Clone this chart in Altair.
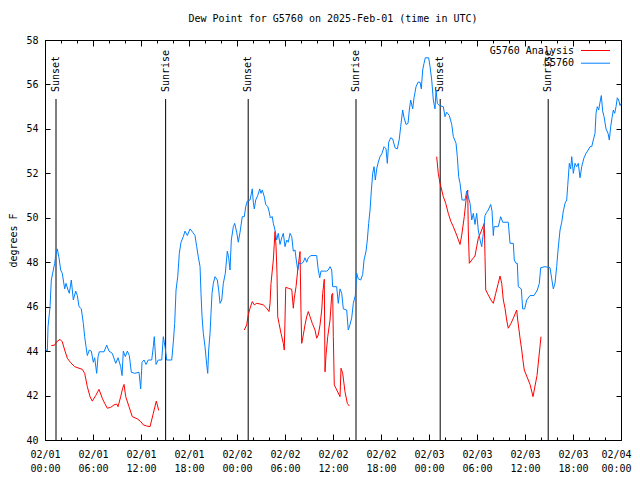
import altair as alt
import pandas as pd

FONT = "DejaVu Sans Mono"
TITLE = "Dew Point for G5760 on 2025-Feb-01 (time in UTC)"
Y_TITLE = "degrees F"
SERIES = ["G5760 Analysis", "G5760"]
COLORS = ["#ff0000", "#0080ff"]

# hours after 2025-02-01 00:00 UTC
BLUE_T = [0.05, 0.29, 0.38, 0.63, 0.79, 1.04, 1.21, 1.34, 1.54, 1.75,
          1.96, 2.16, 2.46, 2.63, 2.88, 3.04, 3.29, 3.54, 3.84, 4.04,
          4.25, 4.54, 4.79, 4.96, 5.13, 5.29, 5.54, 5.79, 6.04, 6.21,
          6.46, 6.63, 6.79, 7.38, 7.71, 8.0, 8.41, 8.84, 9.13, 9.46,
          9.63, 9.79, 10.04, 10.29, 10.54, 10.79, 11.21, 11.75, 11.96, 12.13,
          12.38, 12.63, 12.91, 13.34, 13.54, 13.66, 13.88, 14.16, 14.59, 14.79,
          15.0, 15.21, 15.84, 16.04, 16.21, 16.38, 16.59, 16.79, 17.0, 17.29,
          17.5, 17.79, 18.13, 18.46, 18.75, 18.96, 19.16, 19.38, 19.5, 19.63,
          19.79, 20.0, 20.21, 20.34, 20.46, 20.63, 20.75, 20.88, 21.04, 21.25,
          21.54, 21.71, 21.88, 22.09, 22.29, 22.54, 22.79, 22.96, 23.13, 23.29,
          23.54, 23.71, 23.96, 24.16, 24.38, 24.66, 24.91, 25.09, 25.29, 25.63,
          25.91, 26.04, 26.16, 26.34, 26.59, 26.84, 27.0, 27.16, 27.41, 27.59,
          27.84, 28.0, 28.16, 28.41, 28.54, 28.75, 28.96, 29.16, 29.38, 29.59,
          29.79, 30.0, 30.21, 30.41, 30.63, 30.84, 31.04, 31.25, 31.41, 31.59,
          31.75, 32.09, 32.29, 32.5, 32.71, 32.91, 33.25, 33.96, 34.16, 34.34,
          34.5, 34.91, 35.21, 35.41, 35.63, 35.84, 35.96, 36.46, 36.66, 36.88,
          37.09, 37.29, 37.71, 37.91, 38.13, 38.34, 38.54, 38.79, 38.96, 39.16,
          39.46, 39.71, 39.88, 40.13, 40.29, 40.46, 40.63, 40.79, 40.96, 41.13,
          41.29, 41.46, 41.66, 41.88, 42.13, 42.38, 42.63, 42.79, 42.96, 43.21,
          43.46, 43.75, 44.04, 44.29, 44.46, 44.71, 44.88, 45.13, 45.38, 45.54,
          45.71, 45.96, 46.13, 46.38, 46.63, 46.88, 47.04, 47.21, 47.38, 47.54,
          47.96, 48.13, 48.34, 48.54, 48.75, 48.88, 49.04, 49.29, 49.79, 50.0,
          50.21, 50.54, 50.84, 51.04, 51.38, 51.54, 51.71, 51.88, 52.13, 52.5,
          52.71, 52.91, 53.13, 53.34, 53.54, 53.75, 53.96, 54.16, 54.38, 54.59,
          54.79, 55.0, 55.21, 55.41, 55.71, 55.88, 56.04, 56.13, 56.66, 56.96,
          57.21, 57.91, 58.13, 58.54, 58.66, 58.88, 59.04, 59.16, 59.54, 59.71,
          59.96, 60.21, 60.63, 61.13, 61.54, 61.79, 61.96, 62.5, 63.13, 63.34,
          63.54, 63.75, 63.96, 64.13, 64.38, 64.59, 64.79, 65.0, 65.21, 65.34,
          65.54, 65.71, 65.84, 66.04, 66.25, 66.46, 66.66, 66.88, 67.09, 67.38,
          67.63, 67.91, 68.13, 68.34, 68.54, 68.75, 68.88, 69.04, 69.21, 69.38,
          69.54, 69.71, 69.88, 70.13, 70.38, 70.54, 70.71, 70.88, 71.04, 71.21,
          71.38, 71.54, 71.71, 71.88, 72.0]
BLUE_V = [44.1, 44.0, 45.1, 46.0, 47.2, 47.65, 47.95, 48.3, 48.6, 48.2,
          47.65, 47.5, 46.8, 47.05, 46.75, 46.6, 47.2, 46.3, 46.7, 46.5,
          46.0, 45.9, 45.25, 44.65, 44.2, 43.8, 44.05, 44.0, 43.5, 43.7,
          43.0, 43.75, 43.97, 43.97, 44.27, 44.0, 43.9, 43.45, 43.7, 43.3,
          42.9, 44.0, 43.75, 44.0, 43.8, 43.05, 43.0, 43.05, 42.3, 43.5,
          43.6, 43.4, 43.6, 43.6, 44.2, 44.65, 43.4, 43.6, 43.6, 44.65,
          44.2, 43.6, 43.6, 44.4, 45.25, 46.75, 47.35, 48.4, 48.9, 49.15,
          49.4, 49.2, 49.5, 49.35, 49.2, 48.7, 48.25, 47.8, 46.6, 45.55,
          44.8, 44.2, 43.4, 43.0, 44.05, 44.8, 45.7, 46.6, 47.05, 47.35,
          47.2, 46.75, 46.15, 46.3, 47.05, 47.5, 48.5, 48.2, 47.65, 49.0,
          49.6, 49.75, 49.35, 48.9, 49.35, 50.05, 50.05, 50.5, 50.75, 50.8,
          51.3, 50.7, 50.4, 50.8, 51.0, 51.3, 51.1, 51.25, 50.95, 50.6,
          50.5, 50.3, 50.0, 50.05, 49.75, 49.45, 49.0, 49.3, 48.8, 49.1,
          49.3, 48.7, 49.0, 48.9, 49.3, 49.15, 48.5, 48.55, 48.1, 47.65,
          47.95, 47.95, 48.0, 48.2, 48.0, 48.2, 48.3, 48.3, 47.65, 47.3,
          47.6, 47.6, 47.6, 47.65, 47.8, 47.65, 46.9, 46.9, 46.15, 46.8,
          46.6, 45.9, 45.85, 44.95, 45.2, 45.5, 46.15, 46.5, 47.5, 47.25,
          47.2, 47.45, 48.1, 48.5, 49.0, 49.75, 50.35, 51.2, 52.0, 52.3,
          51.7, 52.2, 52.5, 52.75, 52.9, 53.2, 53.1, 52.45, 53.4, 53.6,
          53.55, 53.15, 53.1, 53.55, 54.1, 54.85, 54.5, 54.2, 54.25, 54.85,
          55.3, 54.9, 55.4, 55.9, 56.1, 56.1, 55.8, 56.65, 56.95, 57.2,
          57.2, 56.8, 56.2, 55.3, 54.9, 55.75, 55.15, 55.05, 55.0, 54.55,
          54.75, 54.6, 54.2, 53.65, 53.35, 52.75, 51.85, 51.55, 50.8, 50.8,
          51.2, 50.95, 50.65, 49.9, 50.2, 49.7, 50.2, 49.45, 49.0, 48.7,
          49.3, 50.1, 50.25, 50.35, 50.6, 50.3, 49.2, 49.6, 49.6, 50.05,
          49.8, 49.8, 48.85, 48.85, 48.1, 47.95, 47.95, 46.9, 46.8, 45.9,
          45.9, 46.3, 46.5, 46.5, 46.75, 47.05, 47.75, 47.8, 47.75, 47.25,
          46.8, 47.05, 47.8, 48.55, 49.45, 49.8, 50.3, 50.65, 50.8, 51.45,
          52.45, 52.2, 52.75, 52.0, 52.45, 52.3, 52.45, 51.8, 52.3, 52.7,
          52.9, 53.05, 53.2, 53.2, 53.5, 53.8, 54.7, 55.0, 54.85, 55.2,
          55.5, 54.8, 54.55, 54.0, 53.8, 53.5, 54.1, 54.5, 54.85, 54.7,
          55.0, 55.4, 55.3, 55.05, 55.15]

RED1_T = [0.79, 1.21, 1.46, 1.88, 2.16, 2.46, 2.79, 3.21, 3.71, 4.25,
          4.66, 4.96, 5.29, 5.63, 5.91, 6.34, 6.75, 7.16, 7.46, 7.79,
          8.21, 8.63, 8.96, 9.13, 9.46, 9.71, 9.88, 10.09, 10.5, 10.91,
          11.54, 11.96, 12.29, 12.71, 13.13, 13.54, 13.91, 14.04, 14.21]
RED1_V = [44.25, 44.27, 44.42, 44.53, 44.42, 44.05, 43.68, 43.48, 43.3, 43.23,
          43.18, 43.0, 42.4, 41.95, 41.75, 42.0, 42.28, 41.88, 41.65, 41.43,
          41.47, 41.58, 41.62, 41.5, 41.95, 42.33, 42.5, 41.95, 41.5, 41.05,
          40.95, 40.83, 40.68, 40.63, 40.6, 41.2, 41.75, 41.58, 41.33]
RED2_T = [24.91, 25.21, 25.41, 25.63, 25.91, 26.16, 26.46, 26.88, 27.29, 27.71,
          28.0, 28.13, 28.25, 28.54, 28.75, 28.88, 29.0, 29.09, 29.25, 29.5,
          29.79, 29.91, 30.0, 30.09, 30.41, 30.84, 31.04, 31.16, 31.38, 31.59,
          31.88, 32.0, 32.09, 32.29, 32.5, 32.71, 32.91, 33.13, 33.41, 33.75,
          33.96, 34.16, 34.38, 34.59, 34.71, 34.91, 35.0, 35.13, 35.34, 35.63,
          35.84, 35.96, 36.04, 36.16, 36.88, 37.0, 37.21, 37.5, 37.79, 38.04]
RED2_V = [44.95, 45.18, 45.63, 45.93, 46.23, 46.08, 46.15, 46.12, 46.08, 45.93,
          45.78, 46.15, 47.05, 48.1, 49.38, 48.7, 47.5, 45.55, 45.25, 44.8,
          44.35, 44.05, 45.4, 46.87, 46.83, 46.78, 45.93, 46.38, 46.9, 47.65,
          48.48, 45.7, 44.35, 44.73, 45.18, 45.55, 45.78, 45.55, 45.25, 44.95,
          44.58, 44.73, 45.18, 45.85, 46.6, 47.23, 43.07, 43.83, 44.65, 45.4,
          46.53, 46.6, 44.65, 42.48, 41.95, 43.23, 43.0, 42.17, 41.65, 41.53]
RED3_T = [48.96, 49.16, 49.38, 49.59, 49.79, 50.09, 50.41, 50.75, 51.04, 51.46,
          51.88, 52.09, 52.41, 52.63, 52.84, 52.91, 53.04, 53.34, 53.75, 53.96,
          54.16, 54.59, 54.91, 55.0, 55.09, 55.41, 55.75, 56.04, 56.34, 56.66,
          56.88, 57.09, 57.29, 57.5, 57.71, 57.91, 58.25, 58.54, 58.96, 59.09,
          59.25, 59.41, 59.59, 59.71, 59.91, 60.63, 61.0, 61.5, 62.0]
RED3_V = [52.75, 52.0, 51.55, 51.25, 50.95, 50.65, 50.2, 49.82, 49.6, 49.22,
          48.8, 49.22, 50.05, 50.8, 51.25, 49.45, 47.95, 48.1, 48.28, 48.7,
          49.08, 49.45, 49.75, 48.25, 46.75, 46.53, 46.3, 46.15, 46.6, 47.05,
          47.38, 47.05, 46.3, 45.93, 45.4, 45.03, 45.25, 45.48, 45.85, 45.4,
          44.95, 44.5, 44.05, 43.68, 43.15, 42.5, 41.95, 42.9, 44.65]

SUN_T = [1.375, 15.08, 25.4, 38.875, 49.4, 62.9]
SUN_LABEL = ["Sunset", "Sunrise", "Sunset", "Sunrise", "Sunset", "Sunrise"]

TICK_HOURS = list(range(0, 73, 6))
TICK_DATE = ["02/01"] * 4 + ["02/02"] * 4 + ["02/03"] * 4 + ["02/04"]
TICK_TIME = ["00:00", "06:00", "12:00", "18:00"] * 3 + ["00:00"]
MINOR_HOURS = list(range(0, 73, 2))
Y_TICKS = list(range(40, 59, 2))

blue = pd.DataFrame({"t": BLUE_T, "v": BLUE_V})
red = pd.concat([
    pd.DataFrame({"t": RED1_T, "v": RED1_V, "seg": 1}),
    pd.DataFrame({"t": RED2_T, "v": RED2_V, "seg": 2}),
    pd.DataFrame({"t": RED3_T, "v": RED3_V, "seg": 3}),
])
sun = pd.DataFrame({"t": SUN_T, "label": SUN_LABEL})

label_expr = "".join(
    f"datum.value == {h} ? ['{d}', '{tm}'] : " for h, d, tm in zip(TICK_HOURS, TICK_DATE, TICK_TIME)
) + "''"

xscale = alt.Scale(domain=[0, 72], nice=False, zero=False)
yscale = alt.Scale(domain=[40, 58], nice=False, zero=False)

common = dict(domain=False, grid=False, tickColor="black", tickWidth=1, title=None)

ax_bottom_major = alt.Axis(orient="bottom", values=TICK_HOURS, tickSize=6, offset=-6,
                           labelExpr=label_expr, labelFont=FONT, labelFontSize=10,
                           labelColor="black", labelPadding=9, labelLineHeight=14,
                           labelFlush=False, labelOverlap=False, labelAngle=0,
                           labelBaseline="top",
                           labelOffset={"condition": {"test": f"datum.value == {TICK_HOURS[-1]}",
                                                      "value": -5}, "value": 0},
                           **common)
ax_bottom_minor = alt.Axis(orient="bottom", values=MINOR_HOURS, tickSize=3, offset=-3,
                           labels=False, **common)
ax_top_major = alt.Axis(orient="top", values=TICK_HOURS, tickSize=6, offset=-6,
                        labels=False, **common)
ax_top_minor = alt.Axis(orient="top", values=MINOR_HOURS, tickSize=3, offset=-3,
                        labels=False, **common)

ax_left = alt.Axis(orient="left", values=Y_TICKS, tickSize=5, offset=-5, domain=False,
                   grid=False, tickColor="black", labelFont=FONT, labelFontSize=10,
                   labelColor="black", labelPadding=7, title=Y_TITLE, titleFont=FONT,
                   titleFontSize=10, titleFontWeight="normal", titleColor="black",
                   titleX=-37, titleY=200, titleAngle=270, titleAlign="center",
                   titleBaseline="middle")
ax_right = alt.Axis(orient="right", values=Y_TICKS, tickSize=5, offset=-5, labels=False,
                    **common)

sun_rules = alt.Chart(sun).mark_rule(color="black", strokeWidth=1).encode(
    x=alt.X("t:Q", scale=xscale, axis=ax_top_major),
    y=alt.value(59),
    y2=alt.value(400),
)
sun_text = alt.Chart(sun).mark_text(
    angle=270, align="left", baseline="middle", font=FONT, fontSize=10, color="black"
).encode(
    x=alt.X("t:Q", scale=xscale, axis=ax_top_minor),
    y=alt.value(52),
    text="label:N",
)

blue_line = alt.Chart(blue).mark_line(color=COLORS[1], strokeWidth=1).encode(
    x=alt.X("t:Q", scale=xscale, axis=ax_bottom_major),
    y=alt.Y("v:Q", scale=yscale, axis=ax_left),
)
red_line = alt.Chart(red).mark_line(color=COLORS[0], strokeWidth=1).encode(
    x=alt.X("t:Q", scale=xscale, axis=ax_bottom_minor),
    y=alt.Y("v:Q", scale=yscale, axis=ax_right),
    detail="seg:N",
)

legend_layers = []
for i, (name, col) in enumerate(zip(SERIES, COLORS)):
    ldf = pd.DataFrame({"name": [name]})
    yy = 10.5 + 12.7 * i
    legend_layers.append(
        alt.Chart(ldf).mark_text(align="right", baseline="middle", font=FONT,
                                 fontSize=10, color="black").encode(
            x=alt.value(529), y=alt.value(yy), text="name:N")
    )
    legend_layers.append(
        alt.Chart(ldf).mark_rule(color=col, strokeWidth=1).encode(
            x=alt.value(536), x2=alt.value(565), y=alt.value(yy))
    )

chart = alt.layer(sun_rules, sun_text, red_line, blue_line, *legend_layers).resolve_axis(
    x="independent", y="independent"
).properties(
    width=576,
    height=400,
    title=alt.TitleParams(text=TITLE, font=FONT, fontSize=10, fontWeight="normal",
                          anchor="middle", color="black", offset=11),
    autosize=alt.AutoSizeParams(type="none"),
    padding={"left": 37, "top": 32, "right": 11, "bottom": 32},
    background="white",
).configure_view(stroke="black", strokeWidth=1)

chart.save("out.html", embed_options={"renderer": "svg", "actions": False})
